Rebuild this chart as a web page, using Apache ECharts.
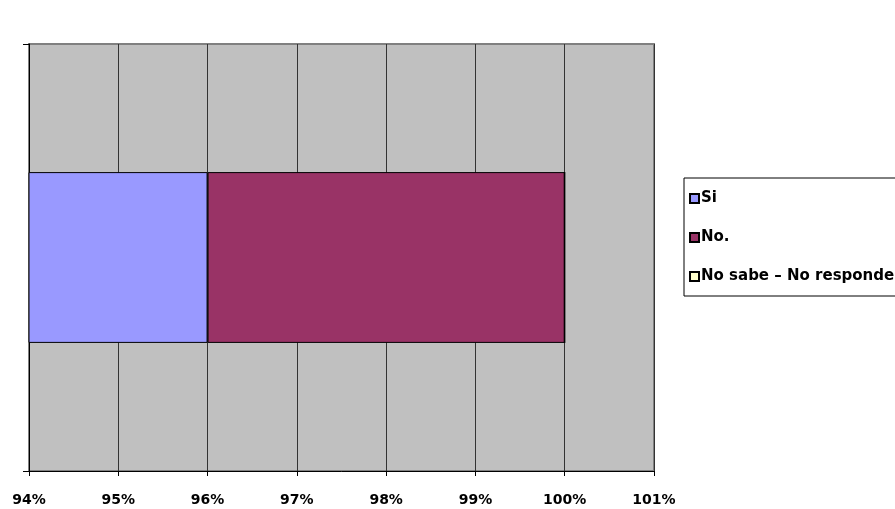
<!DOCTYPE html>
<html>
<head>
<meta charset="utf-8">
<script src="https://cdn.jsdelivr.net/npm/echarts@6/dist/echarts.min.js"></script>
<style>html,body{margin:0;padding:0;background:#fff;}#c{width:895px;height:509px;}</style>
</head>
<body>
<div id="c"></div>
<script>
var categories = [''];
var seriesNames = ['Si', 'No.', 'No sabe \u2013 No responde'];
var siValues = [96];
var noValues = [4];
var nsValues = [0];
var colors = ['#9999FF', '#993366', '#FFFFCC'];
var axisMin = 94, axisMax = 101, axisInterval = 1;

var chart = echarts.init(document.getElementById('c'));
var fontFam = '"DejaVu Sans", "Liberation Sans", sans-serif';
var data = [siValues, noValues, nsValues];
var series = seriesNames.map(function (n, i) {
  return {
    name: n,
    type: 'bar',
    stack: 'total',
    barWidth: '40%',
    data: data[i],
    itemStyle: { color: colors[i], borderColor: '#000', borderWidth: 1 },
    emphasis: { disabled: true },
    animation: false
  };
});
chart.setOption({
  animation: false,
  grid: {
    left: 29, right: 241, top: 44, bottom: 38,
    show: true, backgroundColor: '#C0C0C0', borderColor: '#808080', borderWidth: 2
  },
  xAxis: {
    type: 'value', min: axisMin, max: axisMax, interval: axisInterval,
    axisLine: { show: true, onZero: false, lineStyle: { color: '#000', width: 1 } },
    axisTick: { show: true, length: 5, lineStyle: { color: '#000' } },
    axisLabel: { formatter: '{value}%', color: '#000', fontWeight: 'bold', fontSize: 14, fontFamily: fontFam, margin: 22 },
    splitLine: { show: true, lineStyle: { color: '#333', width: 1 } }
  },
  yAxis: {
    type: 'category', data: categories,
    axisLine: { show: true, lineStyle: { color: '#000', width: 1 } },
    axisTick: { show: true, length: 6, lineStyle: { color: '#000' } },
    axisLabel: { show: false }
  },
  legend: {
    orient: 'vertical', left: 684, top: 178,
    data: seriesNames,
    icon: 'rect', itemWidth: 9, itemHeight: 9,
    itemGap: 24,
    padding: [13, 30, 12, 5],
    borderColor: '#000', borderWidth: 1,
    textStyle: { color: '#000', fontWeight: 'bold', fontSize: 15, fontFamily: fontFam, padding: [0, 0, 0, -3] },
    selectedMode: false
  },
  series: series
});
</script>
</body>
</html>
